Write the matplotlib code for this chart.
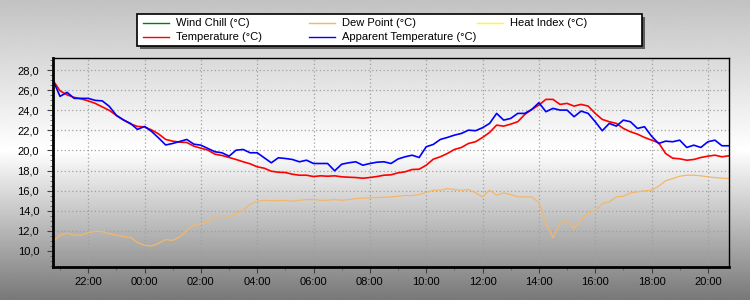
import numpy as np
import matplotlib
matplotlib.use('Agg')
import matplotlib.pyplot as plt
from matplotlib.lines import Line2D
from matplotlib.patches import Rectangle
from matplotlib.ticker import MultipleLocator, FuncFormatter

plt.rcParams['font.family'] = ['Liberation Sans', 'DejaVu Sans']

# Sample times: hours relative to midnight, every 15 minutes from 20:45 to 20:45
start_hour = -3.25
step_hour = 0.25

temperature = [
    27.0, 25.95, 25.55, 25.3, 25.15, 24.95, 24.7, 24.35, 24.0, 23.5,
    23.05, 22.65, 22.4, 22.35, 22.05, 21.65, 21.1, 20.93, 20.83, 20.8,
    20.43, 20.23, 20.03, 19.63, 19.5, 19.3, 19.1, 18.87, 18.67, 18.37,
    18.23, 17.93, 17.83, 17.8, 17.63, 17.53, 17.53, 17.4, 17.47, 17.43,
    17.47, 17.37, 17.33, 17.3, 17.23, 17.3, 17.4, 17.53, 17.57, 17.77,
    17.87, 18.1, 18.13, 18.53, 19.13, 19.37, 19.7, 20.1, 20.3, 20.7,
    20.87, 21.3, 21.8, 22.53, 22.43, 22.63, 22.87, 23.6, 24.1, 24.53,
    25.1, 25.1, 24.6, 24.7, 24.43, 24.6, 24.43, 23.7, 23.1, 22.87,
    22.7, 22.2, 21.87, 21.63, 21.3, 21.03, 20.77, 19.7, 19.23, 19.17,
    19.03, 19.1, 19.3, 19.43, 19.53, 19.37, 19.47,
]

apparent_temperature = [
    27.0, 25.4, 25.8, 25.2, 25.2, 25.2, 25.0, 24.95, 24.4, 23.5,
    23.05, 22.7, 22.1, 22.4, 21.9, 21.25, 20.55, 20.7, 20.9, 21.1,
    20.63, 20.53, 20.2, 19.87, 19.77, 19.43, 20.03, 20.1, 19.77, 19.77,
    19.27, 18.77, 19.27, 19.2, 19.1, 18.87, 19.03, 18.7, 18.7, 18.7,
    17.97, 18.63, 18.77, 18.87, 18.53, 18.7, 18.83, 18.87, 18.7, 19.15,
    19.37, 19.53, 19.3, 20.37, 20.6, 21.1, 21.3, 21.53, 21.7, 22.03,
    21.97, 22.27, 22.7, 23.7, 23.03, 23.2, 23.7, 23.7, 24.1, 24.77,
    23.87, 24.2, 24.03, 24.03, 23.37, 23.93, 23.7, 22.87, 21.97, 22.7,
    22.43, 23.03, 22.87, 22.2, 22.37, 21.43, 20.7, 20.93, 20.87, 21.03,
    20.3, 20.53, 20.3, 20.87, 21.03, 20.47, 20.47,
]

dew_point = [
    10.9, 11.55, 11.75, 11.55, 11.55, 11.8, 11.93, 11.9, 11.7, 11.55,
    11.4, 11.35, 10.8, 10.55, 10.45, 10.75, 11.1, 11.03, 11.37, 12.03,
    12.53, 12.7, 12.87, 13.37, 13.3, 13.37, 13.7, 14.03, 14.63, 14.93,
    15.03, 14.97, 15.0, 15.0, 14.93, 15.03, 15.1, 15.1, 15.03, 15.03,
    15.1, 15.03, 15.1, 15.2, 15.23, 15.27, 15.3, 15.33, 15.37, 15.43,
    15.5, 15.5, 15.6, 15.8, 16.03, 16.03, 16.2, 16.1, 16.03, 16.1,
    15.77, 15.37, 16.03, 15.53, 15.77, 15.6, 15.37, 15.37, 15.37, 14.8,
    12.7, 11.3, 12.7, 13.03, 12.2, 13.03, 13.77, 13.97, 14.7, 14.87,
    15.37, 15.43, 15.77, 15.87, 15.97, 16.03, 16.43, 16.97, 17.2, 17.43,
    17.53, 17.53, 17.47, 17.37, 17.3, 17.23, 17.2,
]

hours = start_hour + step_hour * np.arange(len(temperature))

tick_hours = list(range(-2, 21, 2))
tick_labels = ['22:00', '00:00', '02:00', '04:00', '06:00', '08:00',
               '10:00', '12:00', '14:00', '16:00', '18:00', '20:00']

legend_rows = [
    [('Wind Chill (°C)', '#008000'), ('Dew Point (°C)', '#f4b76a'), ('Heat Index (°C)', '#ffff00')],
    [('Temperature (°C)', '#ff0000'), ('Apparent Temperature (°C)', '#0000ff')],
]

fig = plt.figure(figsize=(7.5, 3), dpi=100)

# Vertical gray-white-gray gradient behind everything
bg = fig.add_axes([0, 0, 1, 1], zorder=-10)
rows = np.arange(300)
shade = np.where(rows < 150, 0.76 + 0.24 * rows / 150, 1.0 - 0.53 * (rows - 150) / 150)
bg.imshow(np.repeat(shade[:, None], 2, axis=1), cmap='gray', vmin=0, vmax=1,
          aspect='auto', extent=[0, 1, 0, 1], interpolation='bilinear')
bg.set_axis_off()

ax = fig.add_axes([53 / 750, 33 / 300, 676 / 750, 209 / 300])
ax.set_facecolor('none')

ax.plot(hours, dew_point, color='#f4b76a', linewidth=0.9)
ax.plot(hours, temperature, color='#ff0000', linewidth=1.2)
ax.plot(hours, apparent_temperature, color='#0000ff', linewidth=1.2)

ax.set_xlim(start_hour, start_hour + 24)
ax.set_ylim(8.37, 29.23)

ax.set_xticks(tick_hours)
ax.set_xticklabels(tick_labels)
ax.xaxis.set_minor_locator(MultipleLocator(1))
ax.set_yticks(range(10, 29, 2))
ax.yaxis.set_major_formatter(FuncFormatter(lambda v, p: f'{v:.1f}'.replace('.', ',')))
ax.yaxis.set_minor_locator(MultipleLocator(0.5))

ax.tick_params(axis='both', which='major', labelsize=8, direction='out', length=4,
               color='#404040', pad=6)
ax.tick_params(axis='both', which='minor', direction='out', length=2, color='#606060')
ax.tick_params(axis='x', pad=3)

ax.grid(True, which='major', color='#a0a0a0', linestyle=(0, (1, 2)), linewidth=0.9)

for side in ['left', 'bottom']:
    ax.spines[side].set_linewidth(2.0)
for side in ['top', 'right']:
    ax.spines[side].set_linewidth(1.0)

# Legend box drawn by hand so the columns sit on a fixed grid
W, H = 750.0, 300.0
box = (137, 14, 505, 32)
fig.add_artist(Rectangle(((box[0] + 3) / W, 1 - (box[1] + box[3] + 3) / H), box[2] / W, box[3] / H,
                         transform=fig.transFigure, facecolor='#404040', edgecolor='none', alpha=0.8))
fig.add_artist(Rectangle((box[0] / W, 1 - (box[1] + box[3]) / H), box[2] / W, box[3] / H,
                         transform=fig.transFigure, facecolor='white', edgecolor='black', linewidth=1.2))
col_x = [143, 309, 477]
row_y = [23.3, 37.3]
for r, row in enumerate(legend_rows):
    for c, (label, color) in enumerate(row):
        y = 1 - row_y[r] / H
        fig.add_artist(Line2D([col_x[c] / W, (col_x[c] + 26) / W], [y, y],
                              transform=fig.transFigure, color=color, linewidth=1.0))
        fig.text((col_x[c] + 33) / W, y, label, fontsize=8, va='center', ha='left')

fig.savefig('out.png', dpi=100)
